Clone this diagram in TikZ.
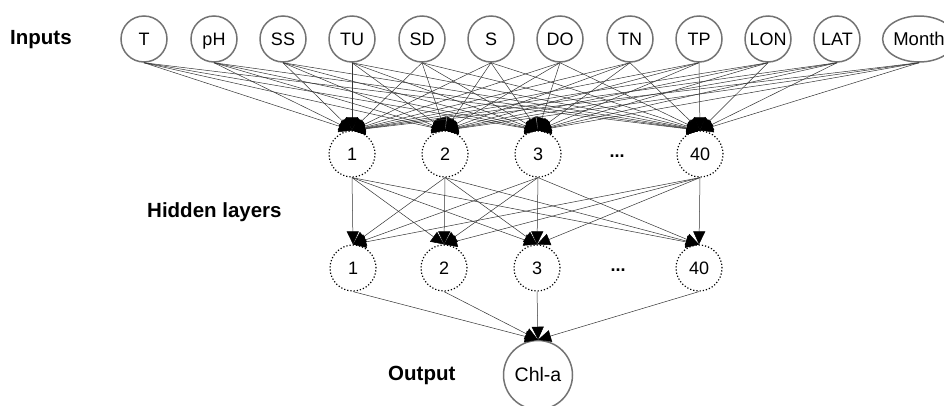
\documentclass[tikz,border=0pt]{standalone}
\usepackage{fontspec}
\setmainfont{Liberation Sans}
\usetikzlibrary{arrows.meta,shapes.geometric}
\begin{document}
\begin{tikzpicture}[x=1pt,y=-1pt,
  inp/.style={circle,draw=black!55,line width=1.5pt,minimum size=46pt,inner sep=0pt,text height=13pt,text depth=0pt,font=\fontsize{18}{18}\selectfont},
  hid/.style={circle,draw=black,dotted,line width=1.2pt,minimum size=46pt,inner sep=0pt,font=\fontsize{18}{18}\selectfont},
  outn/.style={circle,draw=black!55,line width=1.5pt,minimum size=69pt,inner sep=0pt,font=\fontsize{19.5}{19.5}\selectfont},
  lbl/.style={font=\bfseries\fontsize{20.5}{20.5}\selectfont},
  conn/.style={draw=black!80,line width=0.5pt,-{Triangle[length=13pt,width=12pt,color=black,fill=black]}},
  dots/.style={font=\bfseries\fontsize{18}{18}\selectfont}]
\useasboundingbox (0,0) rectangle (944,405);
% inputs
\node[inp] (i1) at (144,39) {T};
\node[inp] (i2) at (214,39) {pH};
\node[inp] (i3) at (283,39) {SS};
\node[inp] (i4) at (352,39) {TU};
\node[inp] (i5) at (422,39) {SD};
\node[inp] (i6) at (491,39) {S};
\node[inp] (i7) at (560,39) {DO};
\node[inp] (i8) at (630,39) {TN};
\node[inp] (i9) at (699,39) {TP};
\node[inp] (i10) at (768,39) {LON};
\node[inp] (i11) at (837,39) {LAT};
\node[ellipse,draw=black!55,line width=1.5pt,minimum width=66pt,minimum height=46pt,inner sep=0pt,text height=13pt,text depth=0pt,font=\fontsize{18.5}{18.5}\selectfont] (i12) at (919,39) {Month};
% hidden layer 1
\node[hid] (a1) at (352,154) {1};
\node[hid] (a2) at (445,154) {2};
\node[hid] (a3) at (538,154) {3};
\node[dots] (ad) at (617,156) {...};
\node[hid] (a4) at (700,154) {40};
% hidden layer 2
\node[hid] (b1) at (353,268) {1};
\node[hid] (b2) at (444,268) {2};
\node[hid] (b3) at (537,268) {3};
\node[dots] (bd) at (618,270) {...};
\node[hid] (b4) at (699,268) {40};
% output
\node[outn] (o) at (538,375) {Chl-a};
% labels
\node[lbl,anchor=west,inner sep=0pt] (l1) at (10,40) {Inputs};
\node[lbl,anchor=west,inner sep=0pt] (l2) at (147,212) {Hidden layers};
\node[lbl,anchor=west,inner sep=0pt] (l3) at (388,375) {Output};
% connectors
\foreach \i in {1,...,12}{
  \foreach \j in {1,...,4}{
    \draw[conn] (i\i.south) -- (a\j.north);
  }
}
\foreach \i in {1,...,4}{
  \foreach \j in {1,...,4}{
    \draw[conn] (a\i.south) -- (b\j.north);
  }
  \draw[conn] (b\i.south) -- (o.north);
}
\end{tikzpicture}
\end{document}
